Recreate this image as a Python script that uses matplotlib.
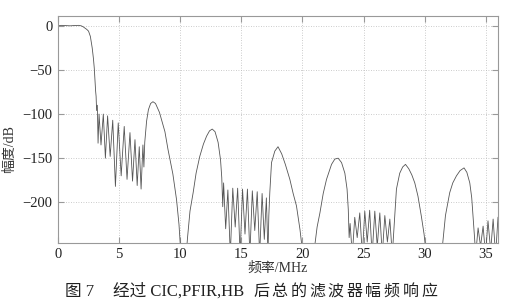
import numpy as np
import matplotlib
matplotlib.use('Agg')
import matplotlib.pyplot as plt

# Values (MHz, dB). Points at -260/-300 sit
# below the axis floor, where the curve is cut off by the plot limits.
passband_f = [0.0, 0.3, 0.6, 1.0, 1.4, 1.7, 1.9, 2.05, 2.2, 2.35, 2.5, 2.65,
              2.8, 2.9, 2.97, 3.03, 3.08, 3.12]
passband_db = [0.0, 0.5, 0.3, 0.0, 0.4, 0.5, 0.0, -1, -2.5, -4, -6, -12,
               -25, -37, -48, -62, -74, -80]

ripple1_f = [3.16, 3.22, 3.28, 3.36, 3.52, 3.71, 3.88, 4.06, 4.27, 4.48,
             4.70, 4.93, 5.17, 5.42, 5.65, 5.89, 6.10, 6.30, 6.48, 6.65,
             6.80, 6.95, 7.03]
ripple1_db = [-96, -90, -133, -100, -135, -100, -150, -102, -148, -107,
              -182, -110, -170, -114, -174, -121, -176, -129, -181, -137,
              -185, -135, -160]

lobe1_f = [7.10, 7.25, 7.40, 7.58, 7.77, 7.98, 8.30, 8.75, 9.00, 9.40,
           9.70, 9.90, 10.25]
lobe1_db = [-132, -108, -95, -88, -86, -88, -98, -120, -140, -168,
            -197, -225, -300]

lobe2_f = [10.60, 10.80, 11.06, 11.30, 11.60, 11.90, 12.16, 12.40, 12.62,
           12.85, 13.10, 13.30, 13.40]
lobe2_db = [-240, -210, -189, -167, -148, -134, -125, -119, -117,
            -120, -132, -152, -172]

ripple2_f = [13.48, 13.55, 13.72, 13.90, 14.10, 14.30, 14.50, 14.70, 14.90,
             15.10, 15.30, 15.50, 15.70, 15.90, 16.10, 16.30, 16.50, 16.70,
             16.88, 17.05, 17.18]
ripple2_db = [-205, -178, -230, -186, -260, -184, -228, -184, -260,
              -185, -236, -185, -260, -187, -232, -188, -260, -190,
              -242, -195, -260]

lobe3_f = [17.25, 17.33, 17.47, 17.74, 18.00, 18.30, 18.60, 18.97, 19.24,
           19.51, 19.80, 20.00, 20.50]
lobe3_db = [-215, -189, -155, -142, -137, -145, -157, -174, -190,
            -204, -231, -255, -300]

lobe4_f = [21.00, 21.20, 21.43, 21.70, 21.97, 22.38, 22.65, 22.92, 23.20,
           23.47, 23.65, 23.75]
lobe4_db = [-250, -228, -212, -190, -174, -157, -151, -150, -155,
            -167, -185, -208]

ripple3_f = [23.82, 23.90, 24.08, 24.28, 24.48, 24.69, 24.90, 25.10, 25.30,
             25.50, 25.70, 25.92, 26.12, 26.33, 26.53, 26.74, 26.95, 27.15,
             27.35]
ripple3_db = [-240, -224, -260, -217, -240, -212, -260, -210, -245,
              -209, -260, -210, -250, -212, -260, -215, -245, -219,
              -260]

lobe5_f = [27.55, 27.69, 27.96, 28.20, 28.43, 28.70, 28.95, 29.19, 29.45,
           29.73, 29.95, 30.10, 30.75]
lobe5_db = [-216, -185, -167, -160, -157, -162, -169, -178, -193,
            -216, -236, -255, -300]

lobe6_f = [31.45, 31.70, 32.05, 32.30, 32.60, 32.90, 33.22, 33.45, 33.69,
           33.85, 33.96]
lobe6_db = [-250, -215, -189, -178, -170, -164, -161, -166, -178,
            -195, -216]

ripple4_f = [34.08, 34.17, 34.37, 34.57, 34.78, 34.98, 35.18, 35.40, 35.60,
             35.80, 36.00]
ripple4_db = [-240, -260, -229, -250, -227, -260, -221, -255, -219,
              -260, -217]

x_ticks = [0, 5, 10, 15, 20, 25, 30, 35]
y_ticks = [-200, -150, -100, -50, 0]

freq = np.concatenate([passband_f, ripple1_f, lobe1_f, lobe2_f, ripple2_f,
                       lobe3_f, lobe4_f, ripple3_f, lobe5_f, lobe6_f,
                       ripple4_f])
gain = np.concatenate([passband_db, ripple1_db, lobe1_db, lobe2_db,
                       ripple2_db, lobe3_db, lobe4_db, ripple3_db, lobe5_db,
                       lobe6_db, ripple4_db])

serif_cjk = ['Liberation Serif', 'Noto Sans CJK SC']

fig = plt.figure(figsize=(5.27, 3.04), dpi=100)
ax = fig.add_axes([0.110, 0.201, 0.835, 0.746])

ax.plot(freq, gain, color='#555555', lw=0.6)

ax.set_xlim(0, 36)
ax.set_ylim(-246, 11)
ax.set_xticks(x_ticks)
ax.set_yticks(y_ticks)
ax.grid(True, color='#bbbbbb', lw=0.6, linestyle=(0, (1, 2)))
for s in ax.spines.values():
    s.set_color('#999999')
    s.set_linewidth(0.8)
ax.tick_params(direction='in', top=True, right=True, length=4,
               color='#999999', labelcolor='#222222', labelsize=10.5,
               pad=4)
for lab in ax.get_xticklabels() + ax.get_yticklabels():
    lab.set_family('Liberation Serif')

ax.set_xlabel('频率/MHz', family=serif_cjk, fontsize=10, color='#333333',
              labelpad=0)
fig.text(0.018, 0.51, '幅度/dB', rotation=90, family=serif_cjk,
         fontsize=10, color='#333333', ha='center', va='center')

# caption below the chart; the last words are spread out as in the print
cap_y = 0.04
fig.text(65 / 527, cap_y, '图 7', family=serif_cjk, fontsize=12,
         color='#222222', ha='left', va='center')
fig.text(113 / 527, cap_y, '经过 CIC,PFIR,HB', family=serif_cjk, fontsize=12,
         color='#222222', ha='left', va='center')
for i, ch in enumerate('后总的滤波器幅频响应'):
    fig.text((253 + i * 18.7) / 527, cap_y, ch, family=serif_cjk,
             fontsize=11.5, color='#222222', ha='left', va='center')

fig.savefig('out.png', dpi=100)
